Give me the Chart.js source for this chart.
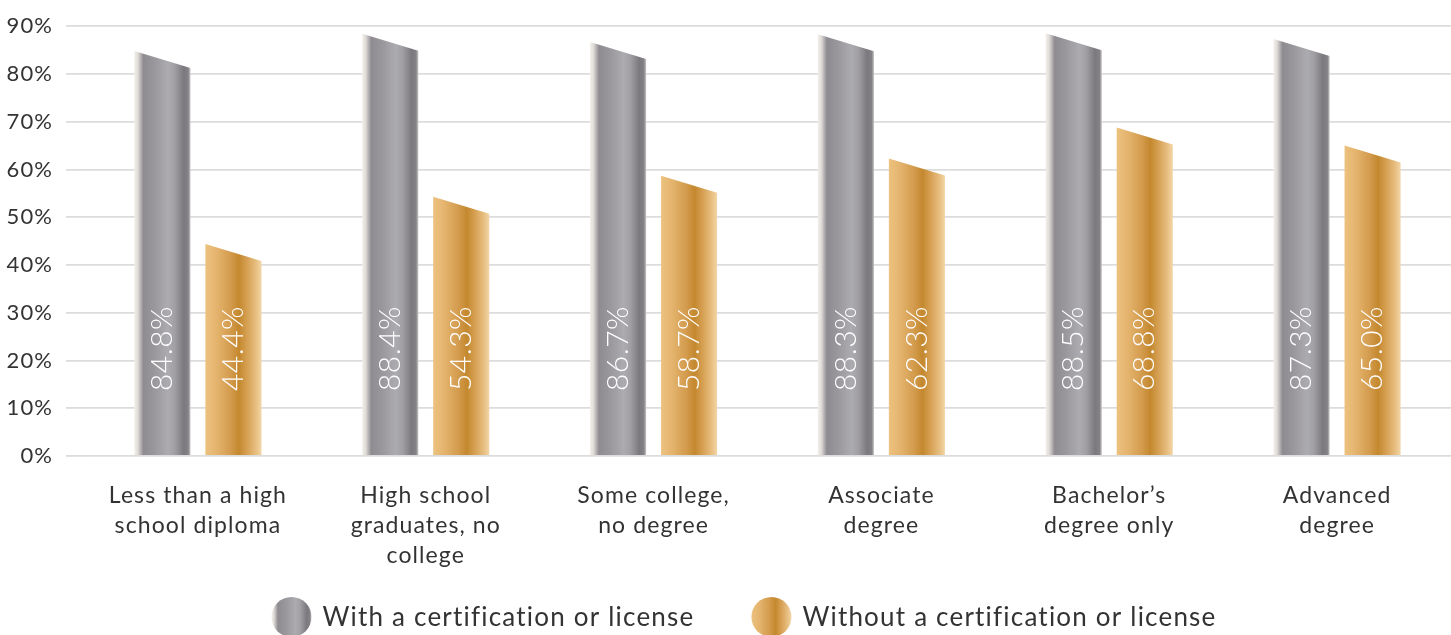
<!DOCTYPE html>
<html><head><meta charset="utf-8">
<script src="https://cdn.jsdelivr.net/npm/chart.js@4.4.0/dist/chart.umd.min.js"></script>
<style>html,body{margin:0;padding:0;background:#fff;} #wrap{width:1451px;height:635px;}</style>
</head><body><div id="wrap"><canvas id="c" width="1451" height="635"></canvas></div>
<script>
const categories = [
  ["Less than a high", "school diploma"],
  ["High school", "graduates, no", "college"],
  ["Some college,", "no degree"],
  ["Associate", "degree"],
  ["Bachelor\u2019s", "degree only"],
  ["Advanced", "degree"]
];
const seriesNames = ["With a certification or license", "Without a certification or license"];
const withCert = [84.8, 88.4, 86.7, 88.3, 88.5, 87.3];
const withoutCert = [44.4, 54.3, 58.7, 62.3, 68.8, 65.0];
const yMax = 90;
const yStep = 10;

const FONT = "Lato, 'Noto Sans', sans-serif";
const grayStops = [[0,'#f2efea'],[0.06,'#e0dcd8'],[0.16,'#8f8c91'],[0.35,'#9a979c'],[0.6,'#acabaf'],[0.72,'#a19fa3'],[0.88,'#7c797e'],[0.96,'#858287'],[1,'#c9c7c8']];
const goldStops = [[0,'#ecc27f'],[0.2,'#e4b46e'],[0.45,'#d39b4d'],[0.6,'#c4882e'],[0.76,'#d8a358'],[0.9,'#e7be80'],[1,'#f3d5a6']];

function grad(ctx, x0, x1, stops) {
  const g = ctx.createLinearGradient(x0, 0, x1, 0);
  stops.forEach(s => g.addColorStop(s[0], s[1]));
  return g;
}

const slantPlugin = {
  id: 'slantBars',
  beforeLayout(chart) { chart.ctx.letterSpacing = '1.1px'; },
  beforeDraw(chart) { chart.ctx.letterSpacing = '1.1px'; },
  beforeDatasetsDraw(chart) {
    const ctx = chart.ctx;
    chart.data.datasets.forEach((ds, di) => {
      const meta = chart.getDatasetMeta(di);
      meta.data.forEach((bar, i) => {
        const p = bar.getProps(['x', 'y', 'width', 'base'], true);
        const l = p.x - p.width / 2, r = p.x + p.width / 2;
        ctx.save();
        ctx.beginPath();
        ctx.moveTo(l, p.base);
        ctx.lineTo(l, p.y);
        ctx.lineTo(r, p.y + 17);
        ctx.lineTo(r, p.base);
        ctx.closePath();
        ctx.fillStyle = grad(ctx, l, r, di === 0 ? grayStops : goldStops);
        ctx.fill();
        ctx.translate(p.x, p.base - 64);
        ctx.rotate(-Math.PI / 2);
        ctx.letterSpacing = '0.5px';
        ctx.fillStyle = '#ffffff';
        ctx.font = '300 30px ' + FONT;
        ctx.textAlign = 'left';
        ctx.textBaseline = 'middle';
        ctx.fillText(ds.data[i].toFixed(1) + '%', 0, 0);
        ctx.restore();
      });
    });
    return false;
  },
  afterDraw(chart) {
    const ctx = chart.ctx;
    ctx.save();
    ctx.letterSpacing = '1.2px';
    ctx.font = '26px ' + FONT;
    ctx.textBaseline = 'middle';
    ctx.textAlign = 'left';
    const rad = 20, gap = 11, itemGap = 57;
    const w = seriesNames.map(s => ctx.measureText(s).width);
    const total = 2 * rad + gap + w[0] + itemGap + 2 * rad + gap + w[1];
    let x = 744 - total / 2;
    const cy = 617;
    [grayStops, goldStops].forEach((st, k) => {
      ctx.beginPath();
      ctx.arc(x + rad, cy, rad, 0, Math.PI * 2);
      ctx.fillStyle = grad(ctx, x, x + 2 * rad, st);
      ctx.fill();
      ctx.fillStyle = '#333333';
      ctx.fillText(seriesNames[k], x + 2 * rad + gap, cy + 1);
      x += 2 * rad + gap + w[k] + itemGap;
    });
    ctx.restore();
  }
};

new Chart(document.getElementById('c'), {
  type: 'bar',
  data: {
    labels: categories,
    datasets: [
      { label: seriesNames[0], data: withCert, backgroundColor: '#9a979c' },
      { label: seriesNames[1], data: withoutCert, backgroundColor: '#d39b4d' }
    ]
  },
  options: {
    responsive: false,
    animation: false,
    devicePixelRatio: 1,
    categoryPercentage: 0.623,
    barPercentage: 0.79,
    layout: { padding: { top: 25, right: 0, bottom: 39, left: 0 } },
    plugins: { legend: { display: false }, tooltip: { enabled: false } },
    scales: {
      x: {
        grid: { display: false, drawTicks: false },
        border: { display: false },
        ticks: { font: { family: FONT, size: 23, lineHeight: '30px' }, color: '#333333', padding: 25, maxRotation: 0, autoSkip: false }
      },
      y: {
        min: 0, max: yMax,
        afterFit(scale) { scale.width = 84; },
        grid: { color: '#dcdcdc', lineWidth: 1.8, tickLength: 18, drawTicks: true },
        border: { display: false },
        ticks: { stepSize: yStep, font: { family: FONT, size: 22 }, color: '#333333', padding: 13, callback: v => v + '%' }
      }
    }
  },
  plugins: [slantPlugin]
});
</script>
</body></html>
